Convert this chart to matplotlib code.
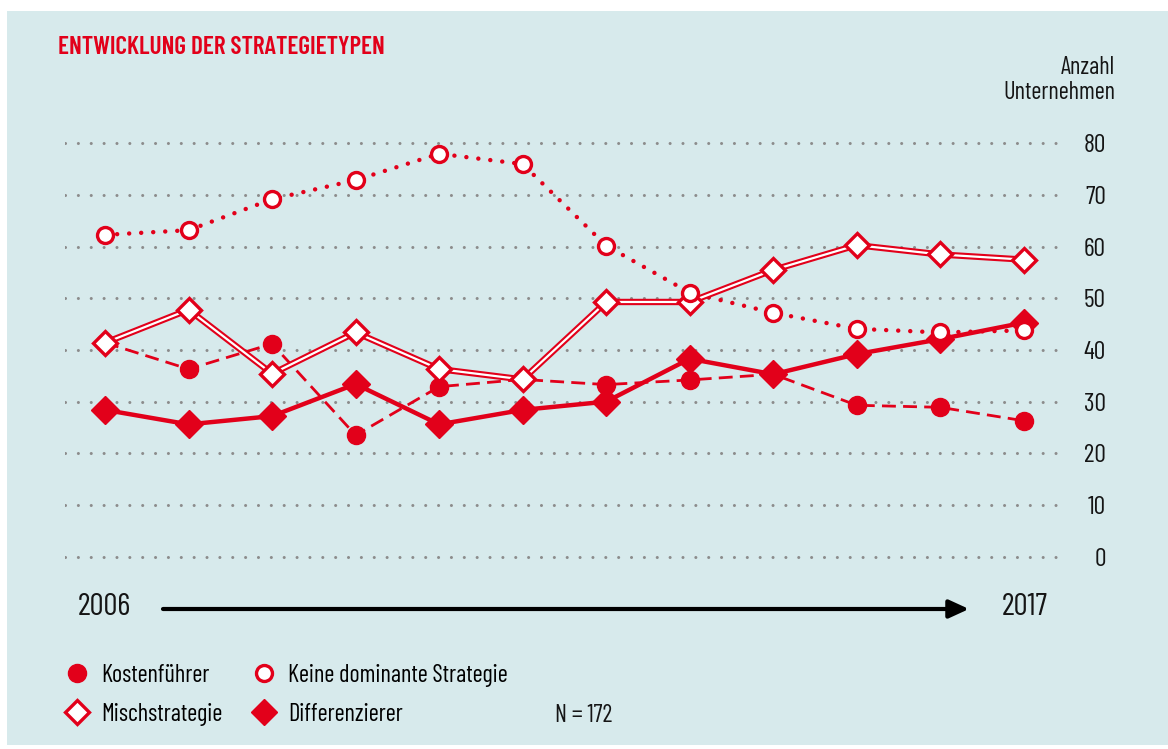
import matplotlib
matplotlib.use("Agg")
import matplotlib.pyplot as plt
from matplotlib.lines import Line2D
from matplotlib.patches import Rectangle

plt.rcParams['font.family'] = ['Barlow Condensed', 'DejaVu Sans']

# data, 2006 ... 2017
years = list(range(2006, 2018))
keine_dominante = [62.3, 63.2, 69.2, 72.9, 78.0, 76.0, 60.2, 51.1, 47.2, 44.1, 43.4, 43.8]
mischstrategie = [41.4, 47.8, 35.4, 43.4, 36.3, 34.3, 49.3, 49.3, 55.5, 60.3, 58.5, 57.5]
kostenfuehrer = [41.4, 36.3, 41.2, 23.5, 32.9, 34.3, 33.3, 34.2, 35.3, 29.3, 28.9, 26.3]
differenzierer = [28.4, 25.6, 27.2, 33.4, 25.6, 28.4, 30.0, 38.3, 35.3, 39.2, 42.1, 45.3]
y_ticks = [0, 10, 20, 30, 40, 50, 60, 70, 80]

RED = '#e2001a'
BG = '#d7eaec'
TXT = '#151515'
W, H = 1168, 749

fig = plt.figure(figsize=(W / 100, H / 100), dpi=100)
fig.patch.set_facecolor('white')
fig.patches.append(Rectangle((7 / W, 0.005), 1, (745 - 11) / H, transform=fig.transFigure,
                             facecolor=BG, edgecolor='none', zorder=-10))

ax = fig.add_axes([65 / W, (H - 570) / H, 998 / W, 440 / H])
ax.set_facecolor('none')
x = list(range(len(years)))
ax.set_xlim(-0.48, 11.47)
ax.set_ylim(-2.6, 82.6)

# dotted grid lines
for v in y_ticks:
    ax.axhline(v, color='#8c8c8c', lw=2.2, linestyle=(0, (0.01, 4.2)),
               dash_capstyle='round', zorder=1)

# Keine dominante Strategie - dotted line, hollow circles
ax.plot(x, keine_dominante, color=RED, lw=3.2, linestyle=(0, (0.01, 2.7)),
        dash_capstyle='round', zorder=3)
ax.plot(x, keine_dominante, linestyle='none', marker='o', ms=11.5, mfc='white',
        mec=RED, mew=2.4, zorder=7, clip_on=False)

# Differenzierer - solid line, filled diamonds
ax.plot(x, differenzierer, color=RED, lw=3.2, marker='D', ms=14, mfc=RED, mec=RED,
        zorder=4, clip_on=False)

# Kostenfuehrer - dashed line, filled circles
ax.plot(x, kostenfuehrer, color=RED, lw=2, linestyle=(0, (5, 2.6)), zorder=4)
ax.plot(x, kostenfuehrer, linestyle='none', marker='o', ms=13, mfc=RED, mec=RED,
        zorder=5, clip_on=False)

# Mischstrategie - double line, hollow diamonds
ax.plot(x, mischstrategie, color=RED, lw=4.6, zorder=5, solid_joinstyle='miter')
ax.plot(x, mischstrategie, color='white', lw=1.6, zorder=5, solid_joinstyle='miter')
ax.plot(x, mischstrategie, linestyle='none', marker='D', ms=12.5, mfc='white', mec=RED,
        mew=2.4, zorder=6, clip_on=False)

for s in ax.spines.values():
    s.set_visible(False)
ax.set_xticks([])
ax.set_yticks(y_ticks)
ax.set_yticklabels([str(v) for v in y_ticks])
ax.tick_params(axis='y', left=False, labelleft=False, right=False, labelright=True,
               length=0, pad=31, labelsize=18.5, labelcolor=TXT)
for lab in ax.get_yticklabels():
    lab.set_horizontalalignment('right')

# title and axis caption
fig.text(58 / W, 1 - 48 / H, 'ENTWICKLUNG DER STRATEGIETYPEN', color=RED,
         fontsize=18.2, fontweight=600, ha='left', va='center')
fig.text(1115 / W, 1 - 80 / H, 'Anzahl\nUnternehmen', color=TXT, fontsize=17.5,
         ha='right', va='center', linespacing=1.12)

# time arrow
fig.text(104 / W, 1 - 607 / H, str(years[0]), fontsize=22.5, ha='center', va='center',
         color=TXT)
fig.text(1025 / W, 1 - 607 / H, str(years[-1]), fontsize=22.5, ha='center', va='center',
         color=TXT)
ax.annotate('', xy=(969 / W, 1 - 609 / H), xytext=(163 / W, 1 - 609 / H),
            xycoords='figure fraction', textcoords='figure fraction',
            arrowprops=dict(arrowstyle='-|>,head_length=1.2,head_width=0.55', lw=3,
                            color='black', shrinkA=0, shrinkB=0))

# legend
handles = [
    Line2D([], [], linestyle='none', marker='o', ms=13, mfc=RED, mec=RED),
    Line2D([], [], linestyle='none', marker='D', ms=12, mfc='white', mec=RED, mew=2.4),
    Line2D([], [], linestyle='none', marker='o', ms=11.5, mfc='white', mec=RED, mew=2.4),
    Line2D([], [], linestyle='none', marker='D', ms=13, mfc=RED, mec=RED),
]
labels = ['Kostenführer', 'Mischstrategie', 'Keine dominante Strategie', 'Differenzierer']
fig.legend(handles, labels, ncol=2, loc='upper left', bbox_to_anchor=(65 / W, 1 - 664 / H),
           frameon=False, fontsize=17.5, handlelength=1.0, handletextpad=0.49,
           columnspacing=1.2, labelspacing=0.65, borderaxespad=0, borderpad=0)
fig.text(555 / W, 1 - 715 / H, 'N = 172', fontsize=17.5, ha='left', va='center',
         color=TXT)

fig.savefig('out.png', dpi=100, facecolor=fig.get_facecolor())
